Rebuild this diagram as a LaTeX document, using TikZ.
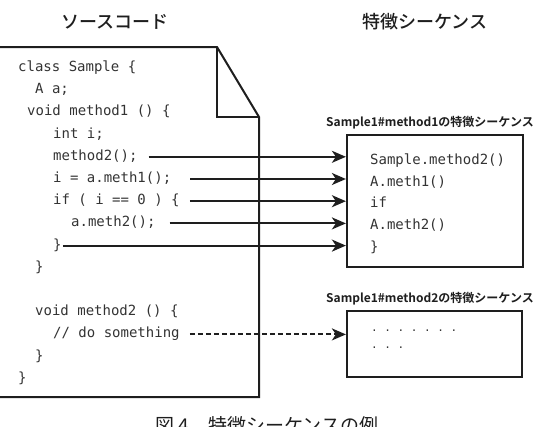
\documentclass[tikz,border=0pt]{standalone}
\usepackage{fontspec}
\setmonofont{DejaVu Sans Mono}
\newfontfamily\jp{Noto Sans CJK JP}
\newfontfamily\jpm{Noto Sans CJK JP Medium}
\newfontfamily\jpb{Noto Sans CJK JP Bold}
\usetikzlibrary{arrows.meta}
\definecolor{ink}{HTML}{1E1E1E}
\definecolor{codeink}{HTML}{333333}
\begin{document}
\begin{tikzpicture}[x=1pt,y=-1pt,
  code/.style={anchor=west,inner sep=0pt,text height=10pt,text depth=3pt,
    font=\ttfamily\fontsize{14}{16}\selectfont,text=codeink},
  head/.style={inner sep=0pt,font=\jpm\fontsize{18}{20}\selectfont,text=ink},
  seqlabel/.style={anchor=west,inner sep=0pt,font=\jpb\fontsize{12}{14}\selectfont,text=ink},
  seqbox/.style={draw=ink,line width=2.2pt,inner sep=0pt},
  link/.style={draw=ink,line width=2pt,-{Stealth[length=14pt,width=12pt,inset=4pt]}},
  dlink/.style={link,dash pattern=on 5pt off 3pt},
  outline/.style={draw=ink,line width=2pt,line join=miter}
]
\useasboundingbox (0,0) rectangle (535,426);

% headers
\node[head] (hsrc) at (115,22) {ソースコード};
\node[head] (hseq) at (425,22) {特徴シーケンス};

% source document outline
\draw[outline] (0,47) -- (217,47) -- (259,117) -- (259,397) -- (0,397);
\draw[outline] (217,47) -- (217,117) -- (259,117);

% code lines
\node[code] (c1)  at (18,68)    {class Sample \{};
\node[code] (c2)  at (35,90.2)  {A a;};
\node[code] (c3)  at (27,112.4) {void method1 () \{};
\node[code] (c4)  at (53,134.6) {int i;};
\node[code] (m2)  at (53,156.8) {method2();};
\node[code] (m1)  at (53,179)   {i = a.meth1();};
\node[code] (mif) at (53,201.2) {if ( i == 0 ) \{};
\node[code] (mm2) at (71,223.4) {a.meth2();};
\node[code] (mcl) at (53,245.6) {\}};
\node[code] (c10) at (35,267.8) {\}};
\node[code] (c11) at (35,312.2) {void method2 () \{};
\node[code] (dos) at (53,334.4) {// do something};
\node[code] (c13) at (35,356.6) {\}};
\node[code] (c14) at (18,378.8) {\}};

% sequence boxes
\node[seqbox,minimum width=176pt,minimum height=132pt] (b1) at (435,201) {};
\node[seqbox,minimum width=175pt,minimum height=66pt] (b2) at (434.5,344) {};
\node[seqlabel] (l1) at (326,123) {Sample1\#method1の特徴シーケンス};
\node[seqlabel] (l2) at (326,299) {Sample1\#method2の特徴シーケンス};

% sequence contents
\node[code] (s1) at (370,161)   {Sample.method2()};
\node[code] (s2) at (370,182.7) {A.meth1()};
\node[code] (s3) at (370,204.4) {if};
\node[code] (s4) at (370,226.1) {A.meth2()};
\node[code] (s5) at (370,247.8) {\}};
\node[code,font=\ttfamily\fontsize{11}{13}\selectfont] (d1) at (371,328) {. . . . . . .};
\node[code,font=\ttfamily\fontsize{11}{13}\selectfont] (d2) at (371,345) {. . .};

% connectors
\draw[link] ([xshift=11pt]m2.east) -- (m2.east -| b1.west);
\draw[link] ([xshift=19pt]m1.east) -- (m1.east -| b1.west);
\draw[link] ([xshift=10pt]mif.east) -- (mif.east -| b1.west);
\draw[link] ([xshift=14pt]mm2.east) -- (mm2.east -| b1.west);
\draw[link] ([xshift=1pt]mcl.east) -- (mcl.east -| b1.west);
\draw[dlink] ([xshift=10pt]dos.east) -- (dos.east -| b2.west);

% caption (cut off at the bottom edge, as in the reference)
\node[anchor=base,inner sep=0pt,font=\jp\fontsize{19}{21}\selectfont,text=ink] (cap) at (267,432) {図 4　特徴シーケンスの例};
\end{tikzpicture}
\end{document}
